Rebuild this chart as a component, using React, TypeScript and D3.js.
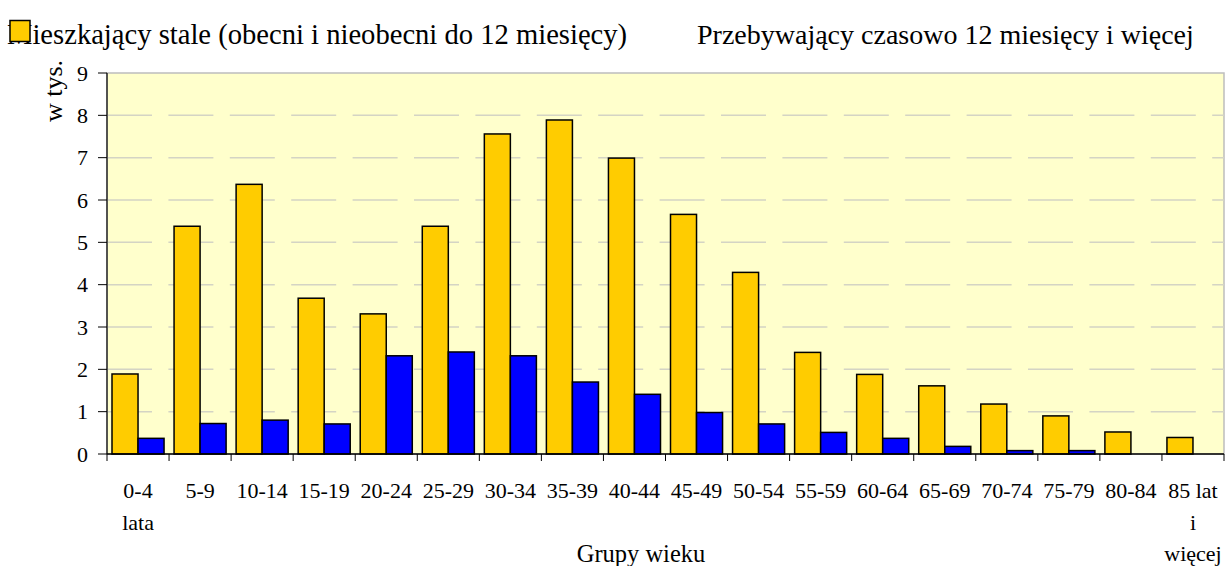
import React from "react";
import * as d3 from "d3";

const categories = ["0-4 lata", "5-9", "10-14", "15-19", "20-24", "25-29", "30-34", "35-39", "40-44", "45-49", "50-54", "55-59", "60-64", "65-69", "70-74", "75-79", "80-84", "85 lat i więcej"];
const categoryLines = [["0-4", "lata"], ["5-9"], ["10-14"], ["15-19"], ["20-24"], ["25-29"], ["30-34"], ["35-39"], ["40-44"], ["45-49"], ["50-54"], ["55-59"], ["60-64"], ["65-69"], ["70-74"], ["75-79"], ["80-84"], ["85 lat", "i", "więcej"]];
const seriesNames = ["Mieszkający stale (obecni i nieobecni do 12 miesięcy)", "Przebywający czasowo 12 miesięcy i więcej"];
const stale = [1.89, 5.38, 6.37, 3.68, 3.31, 5.38, 7.56, 7.89, 6.99, 5.66, 4.29, 2.4, 1.88, 1.61, 1.18, 0.9, 0.52, 0.39];
const czasowo = [0.37, 0.72, 0.8, 0.71, 2.32, 2.41, 2.32, 1.7, 1.41, 0.98, 0.71, 0.51, 0.37, 0.18, 0.08, 0.08, 0, 0];
const yTicks = [0, 1, 2, 3, 4, 5, 6, 7, 8, 9];
const colors = ["#FFCC00", "#0000FF"];

export default function App() {
  const W = 1229, H = 566;
  const left = 107, right = 1224, top = 73, bottom = 454;
  const font = "'Liberation Serif', 'Times New Roman', serif";
  const x = d3.scaleBand<string>().domain(categories).range([left, right]).padding(0);
  const bw = x.bandwidth();
  const inner = d3.scaleBand<string>().domain(["a", "b"]).range([5, bw - 5]).padding(0);
  const y = d3.scaleLinear().domain([0, 9]).range([bottom, top]);
  const series = [stale, czasowo];
  return (
    <svg width={W} height={H} style={{ position: "absolute", left: 0, top: 0, background: "#fff" }} fontFamily={font}>
      <rect x={left} y={top} width={right - left} height={bottom - top} fill="#FFFFCC" stroke="#BDBDBD" strokeWidth={1.5} />
      {yTicks.filter(t => t > 0 && t < 9).map(t => (
        <line key={t} x1={left} x2={right} y1={y(t)} y2={y(t)} stroke="#D4D4C4" strokeWidth={1.5} strokeDasharray="45 16.4" />
      ))}
      {categories.map((c, i) => (
        <g key={c}>
          {series.map((s, j) => {
            const v = s[i];
            if (v <= 0) return null;
            return (
              <rect key={j} x={(x(c) as number) + (inner(j === 0 ? "a" : "b") as number)} y={y(v)} width={inner.bandwidth()} height={y(0) - y(v)} fill={colors[j]} stroke="#000" strokeWidth={1.5} />
            );
          })}
        </g>
      ))}
      <line x1={left} x2={left} y1={top} y2={bottom} stroke="#000" strokeWidth={1.2} />
      <line x1={left} x2={right} y1={bottom} y2={bottom} stroke="#000" strokeWidth={1.5} />
      {yTicks.map(t => (
        <g key={t}>
          <line x1={left - 9} x2={left} y1={y(t)} y2={y(t)} stroke="#000" strokeWidth={1} />
          <text x={88} y={y(t)} dy="0.35em" textAnchor="end" fontSize={22}>{t}</text>
        </g>
      ))}
      {categories.map((c, i) => (
        <line key={c} x1={x(c) as number} x2={x(c) as number} y1={bottom} y2={bottom + 7} stroke="#000" strokeWidth={1} />
      ))}
      <line x1={right} x2={right} y1={bottom} y2={bottom + 7} stroke="#000" strokeWidth={1} />
      {categories.map((c, i) => (
        <text key={c} x={(x(c) as number) + bw / 2} y={498} textAnchor="middle" fontSize={22}>
          {categoryLines[i].map((l, k) => (
            <tspan key={k} x={(x(c) as number) + bw / 2} dy={k === 0 ? 0 : 31.5}>{l}</tspan>
          ))}
        </text>
      ))}
      <text x={641} y={562} textAnchor="middle" fontSize={24.5}>Grupy wieku</text>
      <text transform="translate(62,91) rotate(-90)" textAnchor="middle" fontSize={26}>w tys.</text>
      <text x={7} y={44} fontSize={28.6}>{seriesNames[0]}</text>
      <rect x={10} y={20.5} width={20} height={21} fill={colors[0]} stroke="#000" strokeWidth={1.5} />
      <text x={697} y={44} fontSize={28}>{seriesNames[1]}</text>
    </svg>
  );
}
